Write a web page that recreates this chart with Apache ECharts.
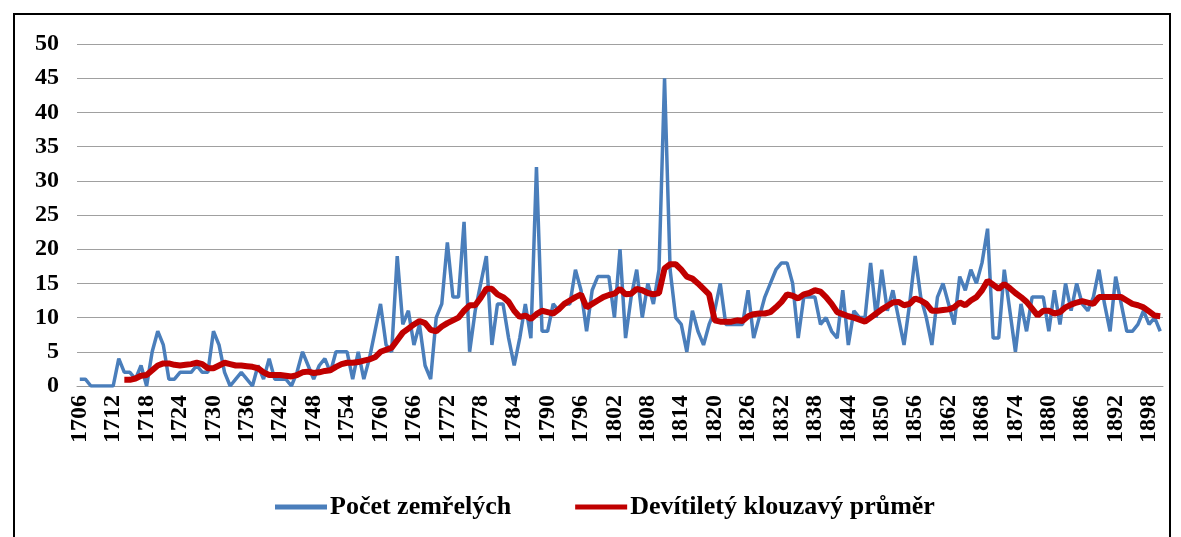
<!DOCTYPE html>
<html>
<head>
<meta charset="utf-8">
<title>Počet zemřelých</title>
<script src="https://cdn.jsdelivr.net/npm/echarts@6/dist/echarts.min.js"></script>
<style>
  html, body { margin: 0; padding: 0; background: #fff; }
  #chart { width: 1181px; height: 537px; }
</style>
</head>
<body>
<div id="chart"></div>
<script>
// years 1706 .. 1900
const firstYear = 1706
const lastYear = 1900
const years = []
for (let y = firstYear; y <= lastYear; y++) years.push(String(y))

// Počet zemřelých
const deaths = [
  1, 1, 0, 0, 0, 0, 0, 4, 2, 2,        // 1706-1715
  1, 3, 0, 5, 8, 6, 1, 1, 2, 2,        // 1716-1725
  2, 3, 2, 2, 8, 6, 2, 0, 1, 2,        // 1726-1735
  1, 0, 3, 1, 4, 1, 1, 1, 0, 2,        // 1736-1745
  5, 3, 1, 3, 4, 2, 5, 5, 5, 1,        // 1746-1755
  5, 1, 4, 8, 12, 6, 5, 19, 9, 11,     // 1756-1765
  6, 9, 3, 1, 10, 12, 21, 13, 13, 24,  // 1766-1775
  5, 11, 15, 19, 6, 12, 12, 7, 3, 7,   // 1776-1785
  12, 7, 32, 8, 8, 12, 11, 12, 12, 17, // 1786-1795
  14, 8, 14, 16, 16, 16, 10, 20, 7, 13,// 1796-1805
  17, 10, 15, 12, 17, 45, 17, 10, 9, 5,// 1806-1815
  11, 8, 6, 9, 11, 15, 9, 9, 9, 9,     // 1816-1825
  14, 7, 10, 13, 15, 17, 18, 18, 15, 7,// 1826-1835
  13, 13, 13, 9, 10, 8, 7, 14, 6, 11,  // 1836-1845
  10, 10, 18, 10, 17, 11, 14, 10, 6, 12,// 1846-1855
  19, 13, 10, 6, 13, 15, 12, 9, 16, 14,// 1856-1865
  17, 15, 18, 23, 7, 7, 17, 11, 5, 12, // 1866-1875
  8, 13, 13, 13, 8, 14, 9, 15, 11, 15, // 1876-1885
  12, 11, 13, 17, 12, 8, 16, 12, 8, 8, // 1886-1895
  9, 11, 9, 10, 8                      // 1896-1900
]

// Devítiletý klouzavý průměr (starts 1714)
const movingAvg = [
  null, null, null, null, null, null, null, null, 0.9, 0.9,   // 1706-1715
  1.1, 1.5, 1.6, 2.3, 3.0, 3.3, 3.3, 3.1, 3.0, 3.1,           // 1716-1725
  3.2, 3.4, 3.2, 2.6, 2.6, 3.0, 3.4, 3.2, 3.0, 3.0,           // 1726-1735
  2.9, 2.8, 2.6, 2.0, 1.6, 1.6, 1.6, 1.5, 1.4, 1.6,           // 1736-1745
  2.0, 2.1, 1.9, 2.0, 2.2, 2.3, 2.8, 3.2, 3.4, 3.4,           // 1746-1755
  3.5, 3.7, 3.9, 4.2, 5.0, 5.3, 5.6, 6.7, 7.8, 8.4,           // 1756-1765
  9.0, 9.5, 9.2, 8.2, 8.0, 8.7, 9.2, 9.6, 10.0, 11.0,         // 1766-1775
  11.8, 11.8, 12.9, 14.2, 14.2, 13.4, 13.0, 12.3, 11.0, 10.1, // 1776-1785
  10.3, 9.8, 10.5, 11.0, 10.8, 10.6, 11.2, 12.0, 12.5, 13.0,  // 1786-1795
  13.4, 11.5, 12.0, 12.5, 13.0, 13.3, 13.5, 14.2, 13.4, 13.5, // 1796-1805
  14.2, 14.0, 13.6, 13.4, 13.6, 17.2, 17.8, 17.8, 17.0, 16.0, // 1806-1815
  15.7, 15.0, 14.2, 13.4, 9.6, 9.4, 9.4, 9.4, 9.6, 9.5,       // 1816-1825
  10.2, 10.5, 10.6, 10.6, 10.8, 11.5, 12.3, 13.4, 13.2, 12.8, // 1826-1835
  13.4, 13.6, 14.0, 13.8, 13.0, 12.0, 10.8, 10.5, 10.2, 10.0, // 1836-1845
  9.7, 9.4, 10.0, 10.6, 11.2, 11.7, 12.2, 12.3, 11.8, 12.0,   // 1846-1855
  12.8, 12.5, 12.0, 11.0, 11.0, 11.1, 11.2, 11.5, 12.2, 11.8, // 1856-1865
  12.5, 13.0, 14.0, 15.4, 14.8, 14.2, 14.9, 14.3, 13.6, 13.0, // 1866-1875
  12.3, 11.3, 10.3, 11.0, 11.0, 10.6, 10.8, 11.5, 11.9, 12.2, // 1876-1885
  12.4, 12.2, 12.0, 13.0, 13.0, 13.0, 13.0, 13.0, 12.5, 12.0, // 1886-1895
  11.8, 11.5, 10.9, 10.3, 10.2                                // 1896-1900
]

const seriesNames = ['Počet zemřelých', 'Devítiletý klouzavý průměr']
const blue = '#4a7ebb'
const red = '#c00000'

const serif = '"Liberation Serif", "DejaVu Serif", serif'

const chart = echarts.init(document.getElementById('chart'))

chart.setOption({
  animation: false,
  backgroundColor: '#ffffff',
  graphic: [
    {
      type: 'rect',
      shape: { x: 14, y: 14, width: 1156, height: 540 },
      style: { fill: 'none', stroke: '#000', lineWidth: 2 },
      silent: true
    }
  ],
  grid: {
    left: 77,
    right: 18,
    top: 44,
    bottom: 151
  },
  legend: {
    left: 270,
    top: 489,
    itemWidth: 52,
    itemHeight: 5,
    itemGap: 64,
    textStyle: {
      fontFamily: serif,
      fontWeight: 'bold',
      fontSize: 26,
      color: '#000',
      padding: [0, 0, 0, -2]
    },
    data: [
      { name: seriesNames[0], icon: 'rect', itemStyle: { color: blue } },
      { name: seriesNames[1], icon: 'rect', itemStyle: { color: red } }
    ]
  },
  xAxis: {
    type: 'category',
    data: years,
    boundaryGap: true,
    axisLine: { lineStyle: { color: '#9a9a9a', width: 1 } },
    axisTick: { show: false },
    axisLabel: {
      interval: 5,
      rotate: 90,
      margin: 9,
      fontFamily: serif,
      fontWeight: 'bold',
      fontSize: 24,
      color: '#000'
    }
  },
  yAxis: {
    type: 'value',
    min: 0,
    max: 50,
    interval: 5,
    axisLine: { show: false },
    axisTick: { show: false },
    axisLabel: {
      margin: 18,
      fontFamily: serif,
      fontWeight: 'bold',
      fontSize: 24,
      color: '#000'
    },
    splitLine: { lineStyle: { color: '#a0a0a0', width: 1.2 } }
  },
  series: [
    {
      name: seriesNames[0],
      type: 'line',
      data: deaths,
      showSymbol: false,
      symbol: 'none',
      itemStyle: { color: blue },
      lineStyle: { color: blue, width: 3.5 },
      z: 2
    },
    {
      name: seriesNames[1],
      type: 'line',
      data: movingAvg,
      showSymbol: false,
      symbol: 'none',
      itemStyle: { color: red },
      lineStyle: { color: red, width: 6 },
      z: 3
    }
  ]
})
</script>
</body>
</html>
